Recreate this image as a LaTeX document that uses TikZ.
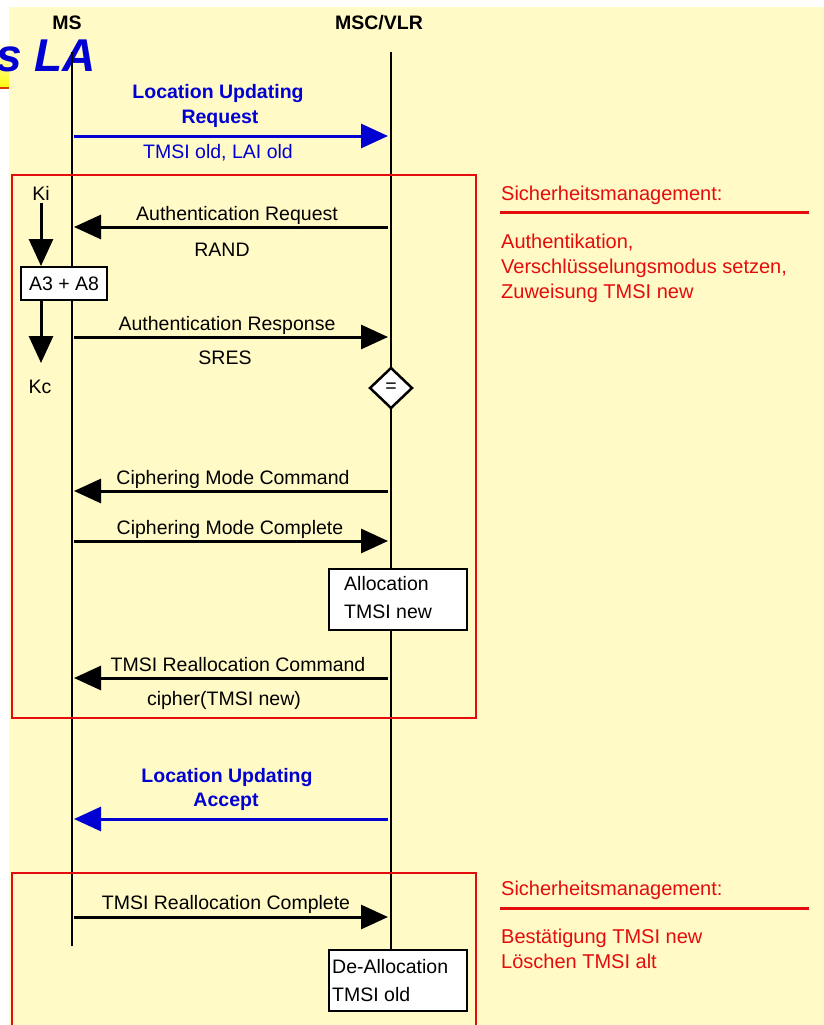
\documentclass[tikz,border=0pt]{standalone}
\usepackage{fontspec}
\setmainfont{Liberation Sans}
\usetikzlibrary{arrows.meta,shapes.geometric}

\definecolor{panel}{RGB}{255,250,198}
\definecolor{msgblue}{RGB}{0,0,210}
\definecolor{secred}{RGB}{228,12,12}
\definecolor{barline}{RGB}{215,60,0}
\definecolor{baryellow}{RGB}{255,250,20}

\newcommand\lblfont{\fontsize{19.5}{24}\selectfont}

\tikzset{
  txt/.style={font=\lblfont, inner sep=0pt, anchor=base},
  hdr/.style={font=\bfseries\lblfont, inner sep=0pt, anchor=base},
  bluetxt/.style={txt, text=msgblue},
  bluehdr/.style={hdr, text=msgblue},
  note/.style={font=\fontsize{20}{25}\selectfont, text=secred, inner sep=0pt, anchor=base west},
  lifeline/.style={line width=2.5pt},
  msg/.style={line width=3pt, -{Triangle[length=27pt,width=24pt]}},
  bluemsg/.style={msg, draw=msgblue, fill=msgblue},
  procbox/.style={draw, line width=2pt, fill=white, inner sep=0pt},
  secframe/.style={draw=secred, line width=2pt},
  secrule/.style={draw=secred, line width=3pt},
}

\begin{document}
\begin{tikzpicture}[x=1pt,y=-1pt]
  \useasboundingbox (0,0) rectangle (824,1025);
  \clip (0,0) rectangle (824,1025);
  \fill[white] (0,0) rectangle (824,1025);

  % slide title bar remnant and panel
  \shade[top color=white, bottom color=baryellow] (0,40) rectangle (9,86);
  \draw[barline, line width=2pt] (0,87.5) -- (9,87.5);
  \fill[panel] (9,7) rectangle (824,1025);
  \node[font=\bfseries\itshape\fontsize{46}{50}\selectfont, text=msgblue,
        inner sep=0pt, anchor=base east] (title) at (96,71) {s LA};

  % lifeline headers
  \node[hdr] (ms)  at (67,30)  {MS};
  \node[hdr] (vlr) at (379,30) {MSC/VLR};

  % processing boxes at the MSC/VLR
  \node[procbox, anchor=north west, minimum width=138pt, minimum height=61pt] (alloc) at (328,568) {};
  \node[procbox, anchor=north west, minimum width=138pt, minimum height=61pt] (dealloc) at (328,949) {};

  % lifelines
  \coordinate (msTop)  at (72,52);
  \coordinate (msBot)  at (72,946);
  \coordinate (vlrTop) at (391,52);
  \draw[lifeline] (msTop) -- (msBot);
  \draw[lifeline] (vlrTop) -- (vlrTop |- dealloc.north);

  % redraw boxes on top of the lifeline
  \node[procbox, anchor=north west, minimum width=138pt, minimum height=61pt] at (328,568) {};
  \node[procbox, anchor=north west, minimum width=138pt, minimum height=61pt] at (328,949) {};
  \node[txt, anchor=base west] (allocA) at (344,590) {Allocation};
  \node[txt, anchor=base west] (allocB) at (344,618) {TMSI new};
  \node[txt, anchor=base west] (deallocA) at (332,973) {De-Allocation};
  \node[txt, anchor=base west] (deallocB) at (332,1001) {TMSI old};

  % security frames
  \draw[secframe] (12,175) rectangle (476,718);
  \draw[secframe] (12,873) rectangle (476,1040);

  % Location Updating Request
  \node[bluehdr] (lurA) at (218,99)  {Location Updating};
  \node[bluehdr] (lurB) at (220,123) {Request};
  \coordinate (ms1)  at (74,136);
  \coordinate (vlr1) at (388,136);
  \draw[bluemsg] (ms1) -- (vlr1);
  \node[bluetxt] (lurP) at (218,158) {TMSI old, LAI old};

  % key derivation at the MS
  \node[txt] (ki) at (41,200) {Ki};
  \node[procbox, minimum width=86pt, minimum height=33pt, font=\lblfont] (a38) at (64,283.5) {A3 + A8};
  \coordinate (kiStart) at (41,203);
  \coordinate (kcTip) at (41,363);
  \draw[msg] (kiStart) -- (kiStart |- a38.north);
  \draw[msg] (kcTip |- a38.south) -- (kcTip);
  \node[txt] (kc) at (40,393) {Kc};

  % Authentication Request
  \node[txt] (arL) at (237,220) {Authentication Request};
  \coordinate (ms2)  at (74,227);
  \coordinate (vlr2) at (388,227);
  \draw[msg] (vlr2) -- (ms2);
  \node[txt] (arP) at (222,256) {RAND};

  % Authentication Response
  \node[txt] (asL) at (227,330) {Authentication Response};
  \coordinate (ms3)  at (74,337);
  \coordinate (vlr3) at (388,337);
  \draw[msg] (ms3) -- (vlr3);
  \node[txt] (asP) at (225,364) {SRES};

  % comparison
  \node[diamond, draw, line width=2.5pt, fill=white, inner sep=0pt,
        minimum width=43pt, minimum height=41pt, font=\lblfont] (eq) at (391,388) {=};

  % Ciphering Mode Command / Complete
  \node[txt] (ccL) at (233,484) {Ciphering Mode Command};
  \coordinate (ms4)  at (74,491);
  \coordinate (vlr4) at (388,491);
  \draw[msg] (vlr4) -- (ms4);

  \node[txt] (cpL) at (230,534) {Ciphering Mode Complete};
  \coordinate (ms5)  at (74,541);
  \coordinate (vlr5) at (388,541);
  \draw[msg] (ms5) -- (vlr5);

  % TMSI Reallocation Command
  \node[txt] (trL) at (238,671) {TMSI Reallocation Command};
  \coordinate (ms6)  at (74,678);
  \coordinate (vlr6) at (388,678);
  \draw[msg] (vlr6) -- (ms6);
  \node[txt] (trP) at (224,705) {cipher(TMSI new)};

  % Location Updating Accept
  \node[bluehdr] (luaA) at (227,782) {Location Updating};
  \node[bluehdr] (luaB) at (226,806) {Accept};
  \coordinate (ms7)  at (74,819);
  \coordinate (vlr7) at (388,819);
  \draw[bluemsg] (vlr7) -- (ms7);

  % TMSI Reallocation Complete
  \node[txt] (tcL) at (226,909) {TMSI Reallocation Complete};
  \coordinate (ms8)  at (74,917);
  \coordinate (vlr8) at (388,917);
  \draw[msg] (ms8) -- (vlr8);

  % security management notes
  \node[note] (s1) at (501,200) {Sicherheitsmanagement:};
  \draw[secrule] (500,212) -- (809,212);
  \node[note] (s1a) at (501,248) {Authentikation,};
  \node[note] (s1b) at (501,273) {Verschlüsselungsmodus setzen,};
  \node[note] (s1c) at (501,298) {Zuweisung TMSI new};

  \node[note] (s2) at (501,895) {Sicherheitsmanagement:};
  \draw[secrule] (500,908) -- (809,908);
  \node[note] (s2a) at (501,943) {Bestätigung TMSI new};
  \node[note] (s2b) at (501,968) {Löschen TMSI alt};
\end{tikzpicture}
\end{document}
